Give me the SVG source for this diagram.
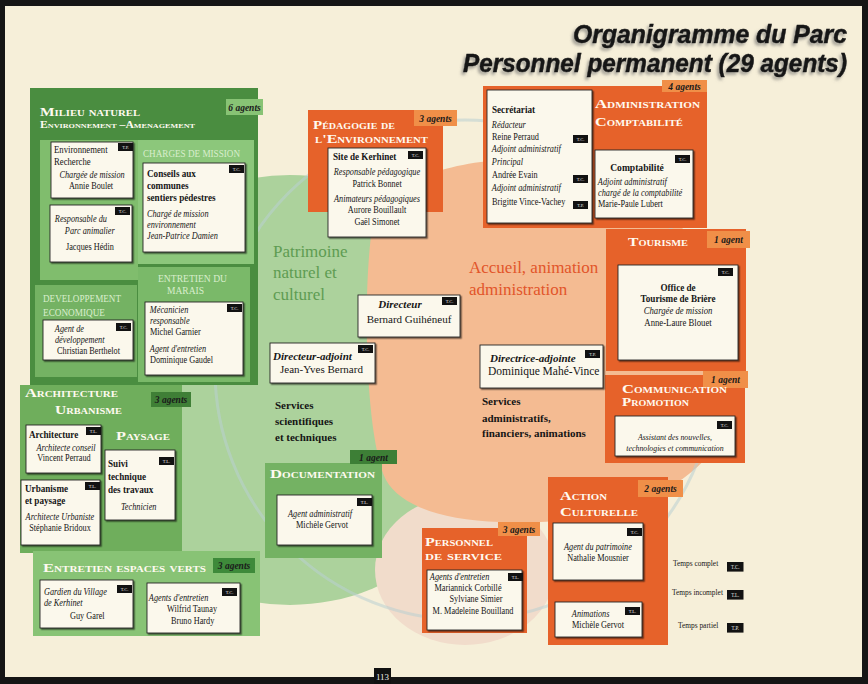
<svg xmlns="http://www.w3.org/2000/svg" width="868" height="684" viewBox="0 0 868 684">
<defs>
<style>
.t{font-family:"Liberation Serif","Times New Roman",serif;font-size:9.5px;fill:#161616;transform-box:fill-box;transform-origin:0 50%;transform:scaleX(.87)}
.t.m{transform-origin:50% 50%}
.t.nc{transform:none}
.i{font-style:italic}
.b{font-weight:bold}
.m{text-anchor:middle}
.hd{font-family:"Liberation Serif","Times New Roman",serif;font-weight:bold;font-variant:small-caps;fill:#fffaf0;font-size:12px}
.sub{font-family:"Liberation Serif","Times New Roman",serif;fill:#d9eecd;font-size:9.5px}
.ag{font-family:"Liberation Serif","Times New Roman",serif;font-weight:bold;font-style:italic;font-size:9.5px;fill:#1a1a1a;text-anchor:middle}
.box{fill:#fbf8ec;stroke:#262626;stroke-width:0.9;filter:url(#sh)}
.tg{fill:#121212}
.tgt{font-family:"Liberation Serif",serif;font-size:4.5px;fill:#e8e8e8;text-anchor:middle}
.dg{fill:#4a8d40}
.mg{fill:#74b263}
.lg{fill:#88c375}
.or{fill:#e6622a}
.ot{fill:#f08f48}
.big{font-family:"Liberation Serif","Times New Roman",serif;font-size:17px}
.svc{font-family:"Liberation Serif","Times New Roman",serif;font-weight:bold;font-size:11px;fill:#151515}
.ttl{font-family:"Liberation Sans",Arial,sans-serif;font-weight:bold;font-style:italic;font-size:25px;fill:#141414;stroke:#141414;stroke-width:0.5;filter:url(#tsh)}
</style>
<filter id="sh" x="-10%" y="-10%" width="125%" height="125%">
<feDropShadow dx="1.4" dy="1.4" stdDeviation="0.5" flood-color="#000" flood-opacity="0.55"/>
</filter>
<filter id="tsh" x="-5%" y="-20%" width="110%" height="150%">
<feDropShadow dx="-2" dy="2.5" stdDeviation="1.5" flood-color="#666" flood-opacity="0.6"/>
</filter>
<g id="tc"><rect class="tg" width="15" height="8"/><text class="tgt" x="7.5" y="5.6">T.C.</text></g>
<g id="tl"><rect class="tg" width="15" height="8"/><text class="tgt" x="7.5" y="5.6">T.L.</text></g>
<g id="tp"><rect class="tg" width="15" height="8"/><text class="tgt" x="7.5" y="5.6">T.P.</text></g>
</defs>

<!-- page and background zones -->
<rect width="868" height="684" fill="#f6efd9"/>
<circle cx="290" cy="390" r="215" fill="#acd29c"/>
<ellipse cx="465" cy="570" rx="90" ry="75" fill="#f1dccb"/>
<path d="M372,228 C380,190 430,165 500,160 C620,155 740,240 742,360 C744,420 710,465 668,488 C620,515 560,525 500,522 C440,520 400,505 386,480 C366,440 362,300 372,228 Z" fill="#f4bb92"/>
<circle cx="465" cy="370" r="250" fill="none" stroke="#b9cfd2" stroke-width="3" opacity="0.55"/>
<rect x="0" y="0" width="868" height="6" fill="#151515"/>
<rect x="0" y="0" width="5" height="684" fill="#151515"/>
<rect x="862" y="0" width="6" height="684" fill="#151515"/>
<rect x="0" y="677" width="868" height="7" fill="#151515"/>

<!-- title -->
<g id="title">
<text class="ttl" x="573" y="43" textLength="274" lengthAdjust="spacingAndGlyphs">Organigramme du Parc</text>
<text class="ttl" x="463" y="72" textLength="384" lengthAdjust="spacingAndGlyphs">Personnel permanent (29 agents)</text>
</g>

<!-- zone labels -->
<g id="zones">
<text class="big" x="273" y="257" fill="#5e9c52">Patrimoine</text>
<text class="big" x="273" y="278" fill="#5e9c52">naturel et</text>
<text class="big" x="273" y="300" fill="#5e9c52">culturel</text>
<text class="big" x="469" y="273" fill="#e2552a">Accueil, animation</text>
<text class="big" x="469" y="295" fill="#e2552a">administration</text>
<text class="svc" x="275" y="409">Services</text>
<text class="svc" x="275" y="425">scientifiques</text>
<text class="svc" x="275" y="441">et techniques</text>
<text class="svc" x="482" y="405">Services</text>
<text class="svc" x="482" y="422">administratifs,</text>
<text class="svc" x="482" y="437">financiers, animations</text>
</g>

<!-- Milieu naturel -->
<g id="milieu-naturel">
<rect class="dg" x="30" y="88" width="228" height="297"/>
<rect class="lg" x="226" y="99" width="37" height="16"/>
<text class="ag" x="244.5" y="111">6 agents</text>
<text class="hd" x="40" y="116" style="font-size:13px" textLength="100" lengthAdjust="spacingAndGlyphs">Milieu naturel</text>
<text class="hd" x="40" y="128" style="font-size:10px" textLength="155" lengthAdjust="spacingAndGlyphs">Environnement –Amenagement</text>
<rect fill="#80bd6d" x="40" y="140" width="98" height="140"/>
<rect fill="#8cc77b" x="138" y="140" width="116" height="124"/>
<rect class="mg" x="35" y="285" width="102" height="92"/>
<rect fill="#7ab969" x="138" y="267" width="112" height="115"/>
<text class="sub" x="143" y="157" textLength="97" lengthAdjust="spacingAndGlyphs">CHARGES DE MISSION</text>
<text class="sub" x="43" y="302" textLength="78" lengthAdjust="spacingAndGlyphs">DEVELOPPEMENT</text>
<text class="sub" x="43" y="316" textLength="62" lengthAdjust="spacingAndGlyphs">ECONOMIQUE</text>
<text class="sub" x="158" y="282" textLength="69" lengthAdjust="spacingAndGlyphs">ENTRETIEN DU</text>
<text class="sub" x="167" y="294">MARAIS</text>
</g>
<g id="environnement-recherche">
<rect class="box" x="51" y="142" width="82" height="56"/>
<use href="#tp" x="118" y="143"/>
<text class="t" x="54" y="153" style="font-size:10px">Environnement</text>
<text class="t" x="54" y="165" style="font-size:10px">Recherche</text>
<text class="t i m" x="92" y="178">Chargée de mission</text>
<text class="t m" x="91" y="189">Annie Boulet</text>
</g>
<g id="parc-animalier">
<rect class="box" x="50" y="205" width="82" height="57"/>
<use href="#tc" x="115" y="207"/>
<text class="t i" x="55" y="222">Responsable du</text>
<text class="t i" x="65" y="234">Parc animalier</text>
<text class="t" x="66" y="250">Jacques Hédin</text>
</g>
<g id="conseils-communes">
<rect class="box" x="143" y="163" width="102" height="89"/>
<use href="#tc" x="229" y="165"/>
<text class="t b" x="147" y="177" style="font-size:10.5px">Conseils aux</text>
<text class="t b" x="147" y="189" style="font-size:10.5px">communes</text>
<text class="t b" x="147" y="201" style="font-size:10.5px">sentiers pédestres</text>
<text class="t i" x="147" y="217">Chargé de mission</text>
<text class="t i" x="147" y="228">environnement</text>
<text class="t i" x="147" y="239">Jean-Patrice Damien</text>
</g>
<g id="developpement-economique">
<rect class="box" x="43" y="320" width="90" height="40"/>
<use href="#tc" x="116" y="323"/>
<text class="t i" x="55" y="332">Agent de</text>
<text class="t i" x="55" y="343">développement</text>
<text class="t" x="57" y="354">Christian Berthelot</text>
</g>
<g id="entretien-marais">
<rect class="box" x="145" y="302" width="98" height="73"/>
<use href="#tc" x="227" y="304"/>
<text class="t i" x="150" y="313">Mécanicien</text>
<text class="t i" x="150" y="324">responsable</text>
<text class="t" x="150" y="335">Michel Garnier</text>
<text class="t i" x="150" y="352">Agent d'entretien</text>
<text class="t" x="150" y="363">Dominique Gaudel</text>
</g>

<!-- Architecture / Urbanisme -->
<g id="architecture-urbanisme">
<rect fill="#6fae5c" x="20" y="385" width="162" height="168"/>
<rect fill="#3f7f36" x="151" y="392" width="40" height="15"/>
<text class="ag" x="171" y="403">3 agents</text>
<text class="hd" x="25" y="397" textLength="93" lengthAdjust="spacingAndGlyphs">Architecture</text>
<text class="hd" x="55" y="414" textLength="67" lengthAdjust="spacingAndGlyphs">Urbanisme</text>
<text class="hd" x="116" y="440" textLength="54" lengthAdjust="spacingAndGlyphs">Paysage</text>
</g>
<g id="architecture">
<rect class="box" x="26" y="425" width="75" height="48"/>
<use href="#tl" x="86" y="427"/>
<text class="t b" x="29" y="438" style="font-size:10.5px">Architecture</text>
<text class="t i m" x="66" y="451">Architecte conseil</text>
<text class="t m" x="64" y="461">Vincent Perraud</text>
</g>
<g id="urbanisme-paysage">
<rect class="box" x="21" y="480" width="79" height="65"/>
<use href="#tl" x="85" y="482"/>
<text class="t b" x="25" y="492" style="font-size:10.5px">Urbanisme</text>
<text class="t b" x="25" y="504" style="font-size:10.5px">et paysage</text>
<text class="t i m" x="60" y="520">Architecte Urbaniste</text>
<text class="t m" x="60" y="531">Stéphanie Bridoux</text>
</g>
<g id="suivi-travaux">
<rect class="box" x="105" y="450" width="70" height="70"/>
<use href="#tl" x="159" y="457"/>
<text class="t b" x="108" y="467" style="font-size:10.5px">Suivi</text>
<text class="t b" x="108" y="480" style="font-size:10.5px">technique</text>
<text class="t b" x="108" y="493" style="font-size:10.5px">des travaux</text>
<text class="t i" x="121" y="510">Technicien</text>
</g>

<!-- Entretien espaces verts -->
<g id="espaces-verts">
<rect class="lg" x="33" y="551" width="227" height="85"/>
<rect fill="#3e8a3a" x="213" y="558" width="42" height="15"/>
<text class="ag" x="234" y="569">3 agents</text>
<text class="hd" x="43" y="572" textLength="163" lengthAdjust="spacingAndGlyphs">Entretien espaces verts</text>
</g>
<g id="gardien-kerhinet">
<rect class="box" x="40" y="580" width="93" height="48"/>
<use href="#tc" x="117" y="585"/>
<text class="t i" x="44" y="595">Gardien du Village</text>
<text class="t i" x="44" y="606">de Kerhinet</text>
<text class="t" x="70" y="619">Guy Garel</text>
</g>
<g id="agents-entretien-verts">
<rect class="box" x="147" y="583" width="93" height="50"/>
<use href="#tc" x="222" y="588"/>
<text class="t i" x="149" y="601">Agents d'entretien</text>
<text class="t" x="167" y="612">Wilfrid Taunay</text>
<text class="t" x="171" y="624">Bruno Hardy</text>
</g>

<!-- Pédagogie de l'environnement -->
<g id="pedagogie">
<rect class="or" x="308" y="110" width="135" height="102"/>
<rect class="ot" x="414" y="110" width="43" height="16"/>
<text class="ag" x="435.5" y="122">3 agents</text>
<text class="hd" x="313" y="129" textLength="82" lengthAdjust="spacingAndGlyphs">Pédagogie de</text>
<text class="hd" x="315" y="143" textLength="113" lengthAdjust="spacingAndGlyphs">l'Environnement</text>
</g>
<g id="site-kerhinet">
<rect class="box" x="328" y="148" width="98" height="89"/>
<use href="#tc" x="408" y="151"/>
<text class="t b" x="333" y="160" style="font-size:10.5px">Site de Kerhinet</text>
<text class="t i m" x="377" y="175">Responsable pédagogique</text>
<text class="t m" x="377" y="187">Patrick Bonnet</text>
<text class="t i m" x="377" y="202">Animateurs pédagogiques</text>
<text class="t m" x="377" y="213">Aurore Bouillault</text>
<text class="t m" x="377" y="225">Gaël Simonet</text>
</g>

<!-- Administration / Comptabilité -->
<g id="administration">
<rect class="or" x="483" y="86" width="224" height="142"/>
<rect class="ot" x="662" y="80" width="45" height="12"/>
<text class="ag" x="684.5" y="89.5">4 agents</text>
<text class="hd" x="595" y="108" textLength="105" lengthAdjust="spacingAndGlyphs">Administration</text>
<text class="hd" x="595" y="126" textLength="88" lengthAdjust="spacingAndGlyphs">Comptabilité</text>
</g>
<g id="secretariat">
<rect class="box" x="487" y="90" width="105" height="133"/>
<use href="#tc" x="573" y="135"/>
<use href="#tc" x="573" y="175"/>
<use href="#tp" x="573" y="201"/>
<text class="t b" x="492" y="113" style="font-size:10.5px">Secrétariat</text>
<text class="t i" x="492" y="128">Rédacteur</text>
<text class="t" x="492" y="140">Reine Perraud</text>
<text class="t i" x="492" y="152">Adjoint administratif</text>
<text class="t i" x="492" y="165">Principal</text>
<text class="t" x="492" y="178">Andrée Evain</text>
<text class="t i" x="492" y="191">Adjoint administratif</text>
<text class="t" x="492" y="205">Brigitte Vince-Vachey</text>
</g>
<g id="comptabilite">
<rect class="box" x="595" y="150" width="98" height="68"/>
<use href="#tc" x="675" y="155"/>
<text class="t b m" x="637" y="171" style="font-size:11px">Comptabilité</text>
<text class="t i" x="598" y="185">Adjoint administratif</text>
<text class="t i" x="598" y="196">chargé de la comptabilité</text>
<text class="t" x="598" y="207">Marie-Paule Lubert</text>
</g>

<!-- Tourisme -->
<g id="tourisme">
<rect class="or" x="606" y="229" width="140" height="142"/>
<rect class="ot" x="707" y="231" width="43" height="17"/>
<text class="ag" x="728.5" y="243">1 agent</text>
<text class="hd" x="628" y="246" textLength="60" lengthAdjust="spacingAndGlyphs">Tourisme</text>
</g>
<g id="office-tourisme">
<rect class="box" x="618" y="265" width="120" height="95"/>
<use href="#tc" x="718" y="268"/>
<text class="t b m" x="678" y="291" style="font-size:10.5px">Office de</text>
<text class="t b m" x="678" y="302" style="font-size:10.5px">Tourisme de Brière</text>
<text class="t i m" x="678" y="314" style="font-size:10px">Chargée de mission</text>
<text class="t m" x="678" y="326" style="font-size:10px">Anne-Laure Blouet</text>
</g>

<!-- Communication / Promotion -->
<g id="communication">
<rect class="or" x="605" y="375" width="140" height="88"/>
<rect class="ot" x="703" y="371" width="45" height="17"/>
<text class="ag" x="725.5" y="383">1 agent</text>
<text class="hd" x="622" y="393" textLength="105" lengthAdjust="spacingAndGlyphs">Communication</text>
<text class="hd" x="622" y="406" textLength="67" lengthAdjust="spacingAndGlyphs">Promotion</text>
</g>
<g id="assistant-ntic">
<rect class="box" x="615" y="416" width="120" height="40"/>
<use href="#tc" x="717" y="421"/>
<text class="t i m" x="675" y="440" style="font-size:9px">Assistant des nouvelles,</text>
<text class="t i m" x="675" y="451" style="font-size:9px">technologies et communication</text>
</g>

<!-- Action culturelle -->
<g id="action-culturelle">
<rect class="or" x="548" y="477" width="120" height="168"/>
<rect class="ot" x="638" y="480" width="45" height="17"/>
<text class="ag" x="660.5" y="492">2 agents</text>
<text class="hd" x="560" y="500" textLength="47" lengthAdjust="spacingAndGlyphs">Action</text>
<text class="hd" x="560" y="516" textLength="78" lengthAdjust="spacingAndGlyphs">Culturelle</text>
</g>
<g id="agent-patrimoine">
<rect class="box" x="553" y="523" width="90" height="57"/>
<use href="#tc" x="627" y="528"/>
<text class="t i m" x="598" y="550">Agent du patrimoine</text>
<text class="t m" x="598" y="561">Nathalie Mousnier</text>
</g>
<g id="animations">
<rect class="box" x="555" y="602" width="87" height="35"/>
<use href="#tl" x="625" y="607"/>
<text class="t i" x="572" y="617">Animations</text>
<text class="t m" x="598" y="628">Michèle Gervot</text>
</g>

<!-- Personnel de service -->
<g id="personnel-service">
<rect class="or" x="422" y="528" width="105" height="105"/>
<rect class="ot" x="498" y="522" width="42" height="14"/>
<text class="ag" x="519" y="532.5">3 agents</text>
<text class="hd" x="425" y="546" textLength="68" lengthAdjust="spacingAndGlyphs">Personnel</text>
<text class="hd" x="425" y="560" textLength="77" lengthAdjust="spacingAndGlyphs">de service</text>
</g>
<g id="agents-entretien-service">
<rect class="box" x="427" y="570" width="95" height="60"/>
<use href="#tl" x="508" y="573"/>
<text class="t i" x="430" y="580">Agents d'entretien</text>
<text class="t m" x="468" y="591">Mariannick Corbillé</text>
<text class="t m" x="476" y="602">Sylviane Simier</text>
<text class="t m" x="473" y="614">M. Madeleine Bouilland</text>
</g>

<!-- Documentation -->
<g id="documentation">
<rect class="mg" x="265" y="463" width="117" height="95"/>
<rect fill="#3d7f36" x="350" y="450" width="47" height="14"/>
<text class="ag" x="373.5" y="460.5">1 agent</text>
<text class="hd" x="270" y="478" textLength="105" lengthAdjust="spacingAndGlyphs">Documentation</text>
</g>
<g id="agent-documentation">
<rect class="box" x="277" y="495" width="95" height="50"/>
<use href="#tl" x="357" y="498"/>
<text class="t i m" x="320" y="517">Agent administratif</text>
<text class="t m" x="322" y="528">Michèle Gervot</text>
</g>

<!-- Direction -->
<g id="directeur">
<rect class="box" x="358" y="295" width="102" height="42"/>
<use href="#tc" x="442" y="297"/>
<text class="t nc b i m" x="400" y="308" style="font-size:11px">Directeur</text>
<text class="t nc m" x="409" y="323" style="font-size:11px">Bernard Guihéneuf</text>
</g>
<g id="directeur-adjoint">
<rect class="box" x="270" y="343" width="105" height="40"/>
<use href="#tc" x="358" y="345"/>
<text class="t nc b i" x="273" y="360" style="font-size:11px">Directeur-adjoint</text>
<text class="t nc" x="280" y="373" style="font-size:11px">Jean-Yves Bernard</text>
</g>
<g id="directrice-adjointe">
<rect class="box" x="480" y="345" width="123" height="43"/>
<use href="#tp" x="585" y="350"/>
<text class="t nc b i" x="490" y="362" style="font-size:11px">Directrice-adjointe</text>
<text class="t nc" x="488" y="375" style="font-size:11.5px">Dominique Mahé-Vince</text>
</g>

<!-- legend -->
<g id="legende">
<text class="t" x="673" y="566" style="font-size:8.5px">Temps complet</text>
<text class="t" x="672" y="595" style="font-size:8.5px">Temps incomplet</text>
<text class="t" x="678" y="628" style="font-size:8.5px">Temps partiel</text>
<g transform="translate(727,562) scale(1.1,1.2)"><use href="#tc"/></g>
<g transform="translate(727,590) scale(1.1,1.2)"><use href="#tl"/></g>
<g transform="translate(727,623) scale(1.1,1.2)"><use href="#tp"/></g>
</g>

<!-- page number -->
<g id="folio">
<rect x="374" y="668" width="17" height="16" fill="#111"/>
<text x="382.5" y="680" text-anchor="middle" font-family="Liberation Serif, serif" font-size="9" fill="#eee">113</text>
</g>
</svg>
